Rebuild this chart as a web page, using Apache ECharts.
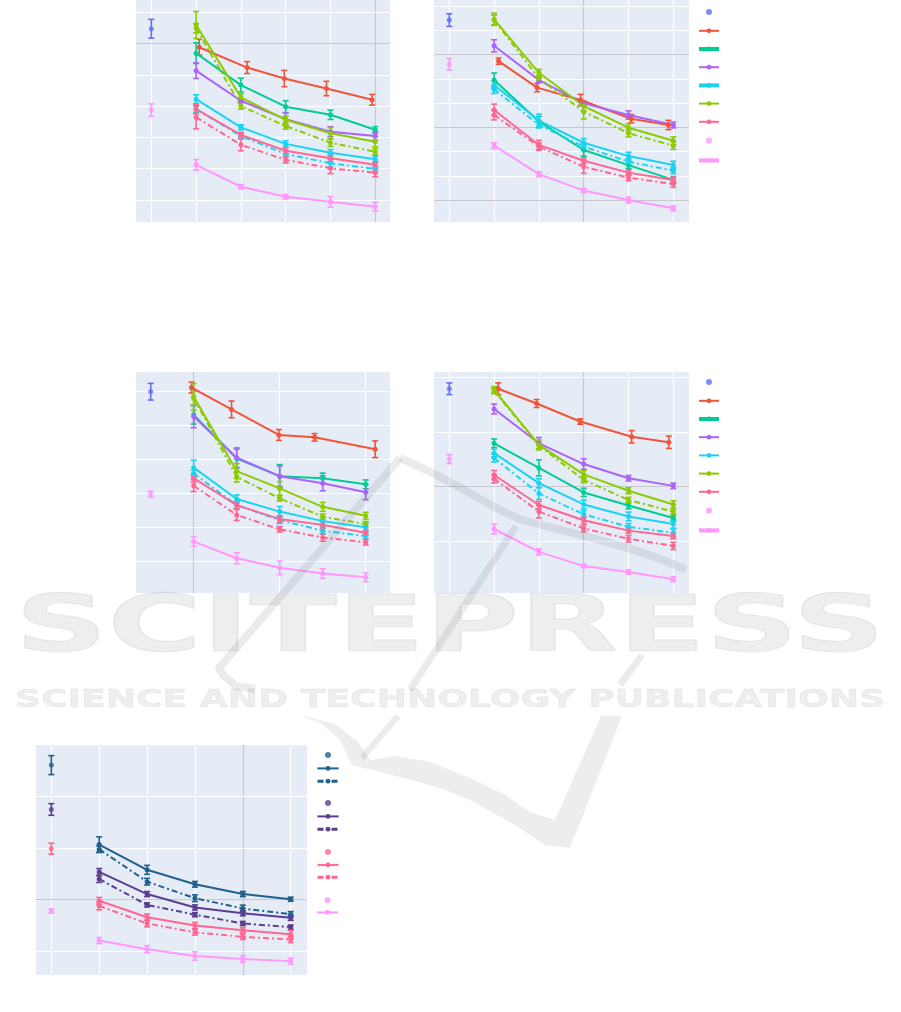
<!DOCTYPE html>
<html><head><meta charset="utf-8">
<script src="https://cdn.jsdelivr.net/npm/echarts@6/dist/echarts.min.js"></script>
<style>html,body{margin:0;padding:0;background:#fff}#c{width:901px;height:1012px}</style>
</head><body><div id="c"></div>
<script>
// ================= DATA =================
const baseX = [0];
const stepX = [1, 2, 3, 4, 5];

// ---- panel 1 ----
const p1BaseA = [5.47], p1BaseAErr = [0.30];
const p1BaseB = [2.87], p1BaseBErr = [0.20];
const p1RedX = [1.07, 2.14, 2.97, 3.91, 4.93];
const p1Red = [4.88, 4.23, 3.88, 3.56, 3.20], p1RedErr = [0.25, 0.19, 0.26, 0.23, 0.17];
const p1Green = [4.69, 3.67, 2.98, 2.72, 2.24], p1GreenErr = [0.33, 0.22, 0.19, 0.15, 0.10];
const p1Purple = [4.13, 3.17, 2.58, 2.18, 2.04], p1PurpleErr = [0.25, 0.06, 0.20, 0.16, 0.13];
const p1Cyan = [3.22, 2.32, 1.79, 1.51, 1.30], p1CyanErr = [0.14, 0.08, 0.10, 0.10, 0.10];
const p1CyanDD = [2.90, 2.04, 1.47, 1.17, 0.99], p1CyanDDErr = [0.10, 0.08, 0.10, 0.12, 0.08];
const p1Lime = [5.59, 3.28, 2.56, 2.13, 1.86], p1LimeErr = [0.43, 0.11, 0.12, 0.18, 0.16];
const p1LimeDD = [5.49, 3.00, 2.36, 1.83, 1.54], p1LimeDDErr = [0.15, 0.10, 0.10, 0.12, 0.10];
const p1Pink = [2.90, 2.08, 1.57, 1.33, 1.12], p1PinkErr = [0.15, 0.08, 0.10, 0.10, 0.10];
const p1PinkDD = [2.64, 1.76, 1.28, 1.01, 0.87], p1PinkDDErr = [0.37, 0.19, 0.10, 0.17, 0.13];
const p1LPink = [1.12, 0.42, 0.10, -0.06, -0.22], p1LPinkErr = [0.17, 0.07, 0.07, 0.17, 0.14];
const p1VGrid = [0, 1, 2, 3, 4, 5], p1HGrid = [0, 1, 2, 3, 4, 5, 6];
const p1VGrey = [5], p1HGrey = [5];

// ---- panel 2 ----
const p2BaseA = [7.42], p2BaseAErr = [0.26];
const p2BaseB = [5.60], p2BaseBErr = [0.24];
const p2RedX = [1.10, 1.96, 2.93, 4.06, 4.89];
const p2Red = [5.73, 4.64, 4.13, 3.36, 3.10], p2RedErr = [0.13, 0.17, 0.23, 0.17, 0.19];
const p2Green = [4.95, 3.24, 2.07, 1.45, 0.84], p2GreenErr = [0.29, 0.21, 0.25, 0.14, 0.14];
const p2Purple = [6.36, 4.95, 3.99, 3.51, 3.10], p2PurpleErr = [0.25, 0.10, 0.10, 0.17, 0.12];
const p2Cyan = [4.75, 3.28, 2.37, 1.82, 1.45], p2CyanErr = [0.17, 0.27, 0.17, 0.16, 0.16];
const p2CyanDD = [4.57, 3.10, 2.21, 1.59, 1.22], p2CyanDDErr = [0.17, 0.12, 0.12, 0.12, 0.12];
const p2Lime = [7.45, 5.25, 3.88, 2.99, 2.45], p2LimeErr = [0.25, 0.14, 0.20, 0.16, 0.16];
const p2LimeDD = [7.42, 5.02, 3.65, 2.76, 2.25], p2LimeDDErr = [0.20, 0.12, 0.30, 0.15, 0.15];
const p2Pink = [3.72, 2.28, 1.63, 1.14, 0.84], p2PinkErr = [0.24, 0.19, 0.12, 0.12, 0.12];
const p2PinkDD = [3.51, 2.21, 1.38, 0.93, 0.67], p2PinkDDErr = [0.20, 0.15, 0.27, 0.12, 0.14];
const p2LPink = [2.25, 1.08, 0.40, 0.01, -0.33], p2LPinkErr = [0.12, 0.10, 0.09, 0.12, 0.10];
const p2VGrid = [0, 1, 2, 3, 4, 5], p2HGrid = [0, 1, 2, 3, 4, 5, 6, 7, 8];
const p2VGrey = [3], p2HGrey = [0, 3, 6];

// ---- panel 3 ----
const p3BaseA = [4.98], p3BaseAErr = [0.245];
const p3BaseB = [1.97], p3BaseBErr = [0.09];
const p3RedX = [0.95, 1.88, 2.98, 3.81, 5.22];
const p3Red = [5.10, 4.46, 3.71, 3.64, 3.29], p3RedErr = [0.16, 0.245, 0.16, 0.11, 0.245];
const p3Green = [4.30, 3.02, 2.50, 2.44, 2.26], p3GreenErr = [0.27, 0.27, 0.34, 0.15, 0.13];
const p3Purple = [4.25, 3.04, 2.50, 2.29, 2.03], p3PurpleErr = [0.33, 0.29, 0.30, 0.22, 0.22];
const p3Cyan = [2.75, 1.83, 1.46, 1.18, 1.00], p3CyanErr = [0.22, 0.12, 0.15, 0.12, 0.12];
const p3CyanDD = [2.58, 1.65, 1.21, 0.90, 0.74], p3CyanDDErr = [0.10, 0.10, 0.10, 0.10, 0.08];
const p3Lime = [4.83, 2.65, 2.14, 1.60, 1.34], p3LimeErr = [0.39, 0.22, 0.20, 0.13, 0.10];
const p3LimeDD = [4.79, 2.48, 1.85, 1.31, 1.09], p3LimeDDErr = [0.20, 0.15, 0.08, 0.08, 0.08];
const p3Pink = [2.44, 1.65, 1.24, 1.07, 0.84], p3PinkErr = [0.12, 0.10, 0.10, 0.10, 0.08];
const p3PinkDD = [2.22, 1.36, 0.94, 0.70, 0.56], p3PinkDDErr = [0.17, 0.16, 0.08, 0.11, 0.08];
const p3LPink = [0.58, 0.09, -0.19, -0.36, -0.47], p3LPinkErr = [0.14, 0.16, 0.20, 0.14, 0.13];
const p3VGrid = [1, 3, 5], p3HGrid = [0, 1, 2, 3, 4, 5];
const p3VGrey = [1], p3HGrey = [];

// ---- panel 4 ----
const p4BaseA = [2.79], p4BaseAErr = [0.107];
const p4BaseB = [1.50], p4BaseBErr = [0.082];
const p4RedX = [1.09, 1.95, 2.92, 4.07, 4.90];
const p4Red = [2.79, 2.52, 2.19, 1.91, 1.81], p4RedErr = [0.107, 0.073, 0.05, 0.113, 0.113];
const p4Green = [1.79, 1.34, 0.89, 0.65, 0.42], p4GreenErr = [0.08, 0.147, 0.076, 0.06, 0.055];
const p4Purple = [2.42, 1.79, 1.41, 1.15, 1.01], p4PurpleErr = [0.09, 0.107, 0.098, 0.05, 0.05];
const p4Cyan = [1.61, 1.06, 0.67, 0.45, 0.31], p4CyanErr = [0.07, 0.08, 0.08, 0.08, 0.076];
const p4CyanDD = [1.52, 0.87, 0.49, 0.26, 0.15], p4CyanDDErr = [0.073, 0.107, 0.064, 0.06, 0.07];
const p4Lime = [2.77, 1.76, 1.22, 0.92, 0.67], p4LimeErr = [0.06, 0.09, 0.067, 0.055, 0.067];
const p4LimeDD = [2.75, 1.75, 1.12, 0.75, 0.54], p4LimeDDErr = [0.05, 0.06, 0.05, 0.05, 0.05];
const p4Pink = [1.21, 0.66, 0.38, 0.19, 0.09], p4PinkErr = [0.083, 0.067, 0.06, 0.05, 0.05];
const p4PinkDD = [1.14, 0.54, 0.23, 0.04, -0.09], p4PinkDDErr = [0.076, 0.116, 0.06, 0.06, 0.067];
const p4LPink = [0.22, -0.20, -0.46, -0.57, -0.70], p4LPinkErr = [0.092, 0.055, 0.03, 0.04, 0.045];
const p4VGrid = [0, 1, 2, 3, 4, 5], p4HGrid = [0, 1, 2, 3];
const p4VGrey = [3], p4HGrey = [1];

// ---- panel 5 ----
const p5BaseBlue = [3.61], p5BaseBlueErr = [0.184];
const p5BasePurple = [2.75], p5BasePurpleErr = [0.113];
const p5BasePink = [1.99], p5BasePinkErr = [0.107];
const p5BaseLPink = [0.78], p5BaseLPinkErr = [0.04];
const p5Blue = [2.07, 1.58, 1.30, 1.11, 1.01], p5BlueErr = [0.149, 0.087, 0.055, 0.05, 0.04];
const p5BlueDD = [1.98, 1.35, 1.03, 0.83, 0.72], p5BlueDDErr = [0.065, 0.065, 0.065, 0.065, 0.05];
const p5Purple = [1.54, 1.11, 0.85, 0.74, 0.65], p5PurpleErr = [0.065, 0.05, 0.05, 0.05, 0.05];
const p5PurpleDD = [1.40, 0.90, 0.71, 0.54, 0.47], p5PurpleDDErr = [0.065, 0.04, 0.04, 0.04, 0.04];
const p5Pink = [0.98, 0.66, 0.50, 0.41, 0.33], p5PinkErr = [0.065, 0.065, 0.06, 0.05, 0.075];
const p5PinkDD = [0.88, 0.54, 0.37, 0.28, 0.23], p5PinkDDErr = [0.075, 0.065, 0.055, 0.05, 0.06];
const p5LPink = [0.21, 0.04, -0.09, -0.15, -0.19], p5LPinkErr = [0.058, 0.07, 0.08, 0.065, 0.058];
const p5VGrid = [0, 1, 2, 3, 4, 5], p5HGrid = [0, 1, 2, 3];
const p5VGrey = [4], p5HGrey = [1];

const wmTitle = 'SCITEPRESS';
const wmSubtitle = 'SCIENCE AND TECHNOLOGY PUBLICATIONS';

// ================= STYLE / LAYOUT =================
const C = {blue:'#636efa', red:'#ef553b', green:'#00cc96', purple:'#ab63fa', cyan:'#19d3f3',
  lime:'#8ccb00', pink:'#ff6692', lpink:'#ff97ff', dblue:'#1f618d', dpurple:'#5b3e90'};
const DD = [6, 3, 2, 3];
const GREY = '#c6c8cc';

function std(P, pre) {
  return [
    {name:pre+' base A', color:C.blue, x:baseX, y:P.baseA, e:P.baseAErr},
    {name:pre+' base B', color:C.lpink, x:baseX, y:P.baseB, e:P.baseBErr},
    {name:pre+' red', color:C.red, x:P.redX, y:P.red, e:P.redErr},
    {name:pre+' green', color:C.green, x:stepX, y:P.green, e:P.greenErr},
    {name:pre+' purple', color:C.purple, x:stepX, y:P.purple, e:P.purpleErr},
    {name:pre+' lime dd', color:C.lime, x:stepX, y:P.limeDD, e:P.limeDDErr, dd:true},
    {name:pre+' lime', color:C.lime, x:stepX, y:P.lime, e:P.limeErr},
    {name:pre+' cyan dd', color:C.cyan, x:stepX, y:P.cyanDD, e:P.cyanDDErr, dd:true},
    {name:pre+' cyan', color:C.cyan, x:stepX, y:P.cyan, e:P.cyanErr},
    {name:pre+' pink dd', color:C.pink, x:stepX, y:P.pinkDD, e:P.pinkDDErr, dd:true},
    {name:pre+' pink', color:C.pink, x:stepX, y:P.pink, e:P.pinkErr},
    {name:pre+' lpink', color:C.lpink, x:stepX, y:P.lpink, e:P.lpinkErr}
  ];
}

const P1 = {baseA:p1BaseA, baseAErr:p1BaseAErr, baseB:p1BaseB, baseBErr:p1BaseBErr, redX:p1RedX, red:p1Red, redErr:p1RedErr,
  green:p1Green, greenErr:p1GreenErr, purple:p1Purple, purpleErr:p1PurpleErr, cyan:p1Cyan, cyanErr:p1CyanErr,
  cyanDD:p1CyanDD, cyanDDErr:p1CyanDDErr, lime:p1Lime, limeErr:p1LimeErr, limeDD:p1LimeDD, limeDDErr:p1LimeDDErr,
  pink:p1Pink, pinkErr:p1PinkErr, pinkDD:p1PinkDD, pinkDDErr:p1PinkDDErr, lpink:p1LPink, lpinkErr:p1LPinkErr};
const P2 = {baseA:p2BaseA, baseAErr:p2BaseAErr, baseB:p2BaseB, baseBErr:p2BaseBErr, redX:p2RedX, red:p2Red, redErr:p2RedErr,
  green:p2Green, greenErr:p2GreenErr, purple:p2Purple, purpleErr:p2PurpleErr, cyan:p2Cyan, cyanErr:p2CyanErr,
  cyanDD:p2CyanDD, cyanDDErr:p2CyanDDErr, lime:p2Lime, limeErr:p2LimeErr, limeDD:p2LimeDD, limeDDErr:p2LimeDDErr,
  pink:p2Pink, pinkErr:p2PinkErr, pinkDD:p2PinkDD, pinkDDErr:p2PinkDDErr, lpink:p2LPink, lpinkErr:p2LPinkErr};
const P3 = {baseA:p3BaseA, baseAErr:p3BaseAErr, baseB:p3BaseB, baseBErr:p3BaseBErr, redX:p3RedX, red:p3Red, redErr:p3RedErr,
  green:p3Green, greenErr:p3GreenErr, purple:p3Purple, purpleErr:p3PurpleErr, cyan:p3Cyan, cyanErr:p3CyanErr,
  cyanDD:p3CyanDD, cyanDDErr:p3CyanDDErr, lime:p3Lime, limeErr:p3LimeErr, limeDD:p3LimeDD, limeDDErr:p3LimeDDErr,
  pink:p3Pink, pinkErr:p3PinkErr, pinkDD:p3PinkDD, pinkDDErr:p3PinkDDErr, lpink:p3LPink, lpinkErr:p3LPinkErr};
const P4 = {baseA:p4BaseA, baseAErr:p4BaseAErr, baseB:p4BaseB, baseBErr:p4BaseBErr, redX:p4RedX, red:p4Red, redErr:p4RedErr,
  green:p4Green, greenErr:p4GreenErr, purple:p4Purple, purpleErr:p4PurpleErr, cyan:p4Cyan, cyanErr:p4CyanErr,
  cyanDD:p4CyanDD, cyanDDErr:p4CyanDDErr, lime:p4Lime, limeErr:p4LimeErr, limeDD:p4LimeDD, limeDDErr:p4LimeDDErr,
  pink:p4Pink, pinkErr:p4PinkErr, pinkDD:p4PinkDD, pinkDDErr:p4PinkDDErr, lpink:p4LPink, lpinkErr:p4LPinkErr};

const legend9 = (pre, top1, top2, thick) => [
  {top:top1, left:697, itemWidth:20, gap:13.4, items:[
    [pre+' base A'], [pre+' red'], [pre+' green', 4], [pre+' purple'], [pre+' cyan', thick ? 4 : 2],
    [pre+' lime'], [pre+' pink'], [pre+' base B']]},
  {top:top2, left:697, itemWidth:20, gap:0, items:[[pre+' lpink', 4]]}
];

const panels = [
  {grid:{left:136, top:0, width:254, height:222}, xr:[-0.342, 5.33], yr:[-0.707, 6.39],
   vg:p1VGrid, hg:p1HGrid, vGrey:p1VGrey, hGrey:p1HGrey, series:std(P1, 'P1'), legends:[]},
  {grid:{left:434, top:0, width:255, height:222}, xr:[-0.342, 5.35], yr:[-0.893, 8.246],
   vg:p2VGrid, hg:p2HGrid, vGrey:p2VGrey, hGrey:p2HGrey, series:std(P2, 'P2'), legends:legend9('P2', 9, 158, true)},
  {grid:{left:136, top:372, width:254, height:221}, xr:[-0.342, 5.565], yr:[-0.93, 5.558],
   vg:p3VGrid, hg:p3HGrid, vGrey:p3VGrey, hGrey:p3HGrey, series:std(P3, 'P3'), legends:[]},
  {grid:{left:434, top:372, width:255, height:221}, xr:[-0.342, 5.35], yr:[-0.953, 3.097],
   vg:p4VGrid, hg:p4HGrid, vGrey:p4VGrey, hGrey:p4HGrey, series:std(P4, 'P4'), legends:legend9('P4', 379, 528, false)},
  {grid:{left:36, top:745, width:271, height:230}, xr:[-0.32, 5.34], yr:[-0.459, 4.0],
   vg:p5VGrid, hg:p5HGrid, vGrey:p5VGrey, hGrey:p5HGrey,
   series:[
    {name:'P5 blue base', color:C.dblue, x:baseX, y:p5BaseBlue, e:p5BaseBlueErr},
    {name:'P5 purple base', color:C.dpurple, x:baseX, y:p5BasePurple, e:p5BasePurpleErr},
    {name:'P5 pink base', color:C.pink, x:baseX, y:p5BasePink, e:p5BasePinkErr},
    {name:'P5 lpink base', color:C.lpink, x:baseX, y:p5BaseLPink, e:p5BaseLPinkErr},
    {name:'P5 blue dd', color:C.dblue, x:stepX, y:p5BlueDD, e:p5BlueDDErr, dd:true},
    {name:'P5 blue', color:C.dblue, x:stepX, y:p5Blue, e:p5BlueErr},
    {name:'P5 purple dd', color:C.dpurple, x:stepX, y:p5PurpleDD, e:p5PurpleDDErr, dd:true},
    {name:'P5 purple', color:C.dpurple, x:stepX, y:p5Purple, e:p5PurpleErr},
    {name:'P5 pink dd', color:C.pink, x:stepX, y:p5PinkDD, e:p5PinkDDErr, dd:true},
    {name:'P5 pink', color:C.pink, x:stepX, y:p5Pink, e:p5PinkErr},
    {name:'P5 lpink', color:C.lpink, x:stepX, y:p5LPink, e:p5LPinkErr}
   ],
   legends:[
    {top:752, left:316, itemWidth:21, gap:8, items:[['P5 blue base'], ['P5 blue'], ['P5 blue dd', 3]]},
    {top:800, left:316, itemWidth:21, gap:8, items:[['P5 purple base'], ['P5 purple'], ['P5 purple dd', 3]]},
    {top:849, left:316, itemWidth:21, gap:7.5, items:[['P5 pink base'], ['P5 pink'], ['P5 pink dd', 3]]},
    {top:897, left:316, itemWidth:21, gap:7, items:[['P5 lpink base'], ['P5 lpink']]}
   ]}
];

// ================= BUILD =================
function errItem(params, api) {
  const x = api.value(0), y = api.value(1), e = api.value(2);
  const a = api.coord([x, y + e]), b = api.coord([x, y - e]);
  const st = {stroke: api.visual('color'), lineWidth: 1.6};
  const hw = 3;
  return {type:'group', children:[
    {type:'line', shape:{x1:a[0], y1:a[1], x2:b[0], y2:b[1]}, style:st},
    {type:'line', shape:{x1:a[0]-hw, y1:a[1], x2:a[0]+hw, y2:a[1]}, style:st},
    {type:'line', shape:{x1:b[0]-hw, y1:b[1], x2:b[0]+hw, y2:b[1]}, style:st}
  ]};
}

const option = {animation:false, backgroundColor:'#ffffff', grid:[], xAxis:[], yAxis:[], series:[], legend:[], graphic:[]};

panels.forEach((p, i) => {
  option.grid.push(Object.assign({show:true, backgroundColor:'#e5ecf6', borderWidth:0}, p.grid));
  option.xAxis.push({type:'value', gridIndex:i, min:p.xr[0], max:p.xr[1], show:false, splitLine:{show:false}});
  option.yAxis.push({type:'value', gridIndex:i, min:p.yr[0], max:p.yr[1], show:false, splitLine:{show:false}});
  const ml = [];
  p.vg.forEach(v => ml.push({xAxis:v, lineStyle:{color:p.vGrey.includes(v) ? GREY : '#ffffff', width:1.2, type:'solid'}}));
  p.hg.forEach(v => ml.push({yAxis:v, lineStyle:{color:p.hGrey.includes(v) ? GREY : '#ffffff', width:1.2, type:'solid'}}));
  option.series.push({type:'line', name:'grid'+i, xAxisIndex:i, yAxisIndex:i, data:[], silent:true, z:1,
    markLine:{silent:true, symbol:'none', z:1, animation:false, label:{show:false}, data:ml}});
  p.series.forEach(s => {
    const pts = s.x.map((xv, k) => [xv, s.y[k]]);
    const epts = s.x.map((xv, k) => [xv, s.y[k], s.e[k]]);
    option.series.push({type:'custom', name:s.name+' err', xAxisIndex:i, yAxisIndex:i, data:epts, z:3, silent:true,
      itemStyle:{color:s.color}, encode:{x:0, y:1}, renderItem:errItem});
    option.series.push({type: s.x.length === 1 ? 'scatter' : 'line', name:s.name, xAxisIndex:i, yAxisIndex:i,
      data:pts, z:4, silent:true, symbol:'circle', symbolSize:5, showSymbol:true,
      itemStyle:{color:s.color}, lineStyle:{color:s.color, width:2, type: s.dd ? DD : 'solid'}});
  });
  p.legends.forEach(L => {
    option.legend.push({orient:'vertical', left:L.left, top:L.top, padding:0, itemGap:L.gap,
      itemWidth:L.itemWidth, itemHeight:6, selectedMode:false, formatter:() => '',
      textStyle:{fontSize:6, lineHeight:6},
      data:L.items.map(it => it[1] ? {name:it[0], lineStyle:{width:it[1]}} : {name:it[0]})});
  });
});

// ---- watermark (publisher overlay) ----
const mctx = document.createElement('canvas').getContext('2d');
const fTitle = 'bold 78px "DejaVu Sans"', fSub = 'bold 25px "DejaVu Sans"';
mctx.font = fTitle; const wT = mctx.measureText(wmTitle).width;
mctx.font = fSub; const wS = mctx.measureText(wmSubtitle).width;
const WM = 'rgba(110,110,110,0.14)';
const wmStyle = (w) => ({fill:null, stroke:WM, lineWidth:w, lineCap:'butt', lineJoin:'round'});
option.graphic = [
  {type:'polyline', silent:true, z:100, shape:{points:[[255,689],[236,686],[223,675],[219,668],[400,458]]}, style:wmStyle(8)},
  {type:'bezierCurve', silent:true, z:100, shape:{x1:400, y1:458, cpx1:450, cpy1:478, cpx2:490, cpy2:508, x2:522, y2:520}, style:wmStyle(8)},
  {type:'bezierCurve', silent:true, z:100, shape:{x1:522, y1:520, cpx1:580, cpy1:535, cpx2:640, cpy2:548, x2:686, y2:570}, style:wmStyle(8)},
  {type:'line', silent:true, z:100, shape:{x1:516, y1:526, x2:410, y2:690}, style:wmStyle(7)},
  {type:'line', silent:true, z:100, shape:{x1:642, y1:655, x2:620, y2:685}, style:wmStyle(7)},
  {type:'line', silent:true, z:100, shape:{x1:398, y1:716, x2:362, y2:758}, style:wmStyle(6)},
  {type:'polygon', silent:true, z:100, shape:{points:[[301,715],[322,724],[340,740],[352,765],[400,777],[440,788],[470,800],
    [510,822],[545,845],[570,848],[622,716],[601,716],[555,820],[530,812],[505,795],[470,778],[430,762],[395,756],[370,760],[358,742],[335,724]]},
   style:{fill:'rgba(110,110,110,0.12)', stroke:null}},
  {type:'text', silent:true, z:101, x:450, y:631, scaleX:870 / wT,
   style:{text:wmTitle, font:fTitle, fill:'rgba(120,120,120,0.13)', stroke:'rgba(120,120,120,0.1)', lineWidth:1.2, align:'center', verticalAlign:'middle'}},
  {type:'text', silent:true, z:101, x:450, y:700.5, scaleX:870 / wS,
   style:{text:wmSubtitle, font:fSub, fill:'rgba(120,120,120,0.13)', stroke:'rgba(120,120,120,0.08)', lineWidth:0.8, align:'center', verticalAlign:'middle'}}
];

const chart = echarts.init(document.getElementById('c'), null, {renderer:'canvas', width:901, height:1012});
chart.setOption(option);
</script></body></html>
